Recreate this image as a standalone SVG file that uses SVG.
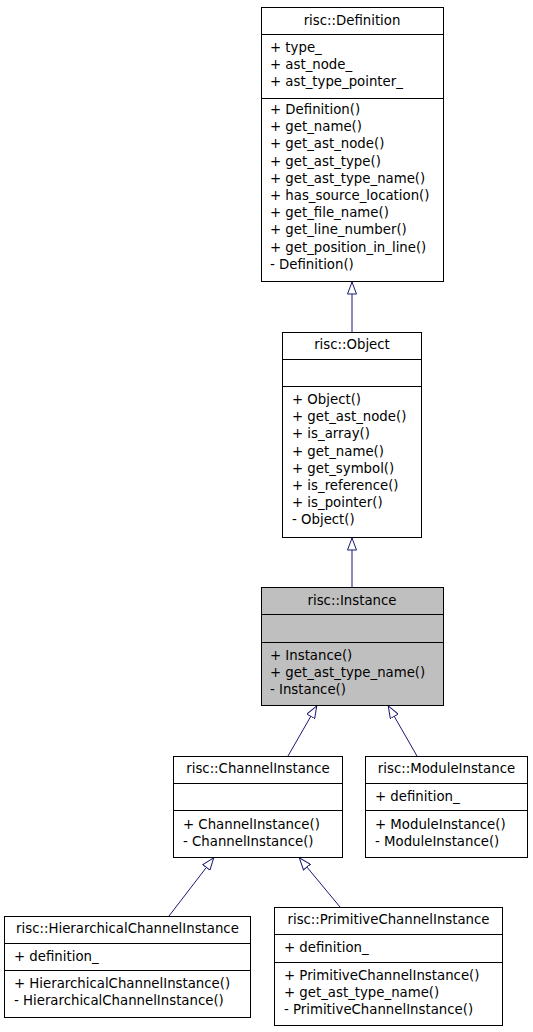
<svg xmlns="http://www.w3.org/2000/svg" width="533" height="1032" viewBox="0 0 533 1032">
<style>
  .box { fill: #ffffff; stroke: #000000; stroke-width: 1; }
  .hl { fill: #bfbfbf; }
  .sep { stroke: #000000; stroke-width: 1; fill: none; }
  text { font-family: "DejaVu Sans", "Liberation Sans", sans-serif; font-size: 13.3px; fill: #000000; }
  .t { text-anchor: middle; }
  .edge { stroke: #191970; stroke-width: 1; fill: none; marker-end: url(#inh); }
</style>
<defs>
  <marker id="inh" viewBox="0 0 13 10" refX="13" refY="5" markerWidth="13" markerHeight="10" markerUnits="userSpaceOnUse" orient="auto">
    <path d="M0.5,0.5 L12.5,5 L0.5,9.5 Z" fill="#ffffff" stroke="#191970" stroke-width="1"/>
  </marker>
</defs>
<rect width="533" height="1032" fill="#ffffff"/>

<g id="connectors">
  <path class="edge" d="M352,332 L352,281.5"/>
  <path class="edge" d="M352,587 L352,537.5"/>
  <path class="edge" d="M288,756 L317,705.5"/>
  <path class="edge" d="M417,756 L388,705.5"/>
  <path class="edge" d="M169,916 L214,857.5"/>
  <path class="edge" d="M340,907 L299,857.5"/>
</g>

<g id="node-definition">
  <rect class="box" x="261.5" y="7.5" width="182" height="274"/>
  <path class="sep" d="M261.5,34.5 H443.5 M261.5,98.5 H443.5"/>
  <text class="t" x="352" y="25">risc::Definition</text>
  <text x="270" y="52">+ type_</text>
  <text x="270" y="69.2">+ ast_node_</text>
  <text x="270" y="86.4">+ ast_type_pointer_</text>
  <text x="270" y="114">+ Definition()</text>
  <text x="270" y="131.2">+ get_name()</text>
  <text x="270" y="148.4">+ get_ast_node()</text>
  <text x="270" y="165.6">+ get_ast_type()</text>
  <text x="270" y="182.8">+ get_ast_type_name()</text>
  <text x="270" y="200">+ has_source_location()</text>
  <text x="270" y="217.2">+ get_file_name()</text>
  <text x="270" y="234.4">+ get_line_number()</text>
  <text x="270" y="251.6">+ get_position_in_line()</text>
  <text x="270" y="268.8">- Definition()</text>
</g>

<g id="node-object">
  <rect class="box" x="282.5" y="332.5" width="139" height="205"/>
  <path class="sep" d="M282.5,359.5 H421.5 M282.5,386.5 H421.5"/>
  <text class="t" x="352" y="349">risc::Object</text>
  <text x="292" y="404">+ Object()</text>
  <text x="292" y="421.2">+ get_ast_node()</text>
  <text x="292" y="438.4">+ is_array()</text>
  <text x="292" y="455.6">+ get_name()</text>
  <text x="292" y="472.8">+ get_symbol()</text>
  <text x="292" y="490">+ is_reference()</text>
  <text x="292" y="507.2">+ is_pointer()</text>
  <text x="292" y="524.4">- Object()</text>
</g>

<g id="node-instance">
  <rect class="box hl" x="261.5" y="587.5" width="182" height="118"/>
  <path class="sep" d="M261.5,614.5 H443.5 M261.5,642.5 H443.5"/>
  <text class="t" x="352" y="605">risc::Instance</text>
  <text x="270" y="660">+ Instance()</text>
  <text x="270" y="677.2">+ get_ast_type_name()</text>
  <text x="270" y="694.4">- Instance()</text>
</g>

<g id="node-channelinstance">
  <rect class="box" x="173.5" y="756.5" width="169" height="101"/>
  <path class="sep" d="M173.5,783.5 H342.5 M173.5,810.5 H342.5"/>
  <text class="t" x="258" y="773">risc::ChannelInstance</text>
  <text x="183" y="828.5">+ ChannelInstance()</text>
  <text x="183" y="845.7">- ChannelInstance()</text>
</g>

<g id="node-moduleinstance">
  <rect class="box" x="365.5" y="756.5" width="162" height="101"/>
  <path class="sep" d="M365.5,783.5 H527.5 M365.5,810.5 H527.5"/>
  <text class="t" x="446.5" y="773">risc::ModuleInstance</text>
  <text x="375" y="800.5">+ definition_</text>
  <text x="375" y="828.5">+ ModuleInstance()</text>
  <text x="375" y="845.7">- ModuleInstance()</text>
</g>

<g id="node-hierarchicalchannelinstance">
  <rect class="box" x="4.5" y="916.5" width="246" height="101"/>
  <path class="sep" d="M4.5,943.5 H250.5 M4.5,970.5 H250.5"/>
  <text class="t" x="127.5" y="933">risc::HierarchicalChannelInstance</text>
  <text x="14" y="960.5">+ definition_</text>
  <text x="14" y="988">+ HierarchicalChannelInstance()</text>
  <text x="14" y="1005.2">- HierarchicalChannelInstance()</text>
</g>

<g id="node-primitivechannelinstance">
  <rect class="box" x="274.5" y="907.5" width="228" height="118"/>
  <path class="sep" d="M274.5,934.5 H502.5 M274.5,962.5 H502.5"/>
  <text class="t" x="388.5" y="924">risc::PrimitiveChannelInstance</text>
  <text x="284" y="951.5">+ definition_</text>
  <text x="284" y="979.5">+ PrimitiveChannelInstance()</text>
  <text x="284" y="996.7">+ get_ast_type_name()</text>
  <text x="284" y="1013.9">- PrimitiveChannelInstance()</text>
</g>
</svg>
